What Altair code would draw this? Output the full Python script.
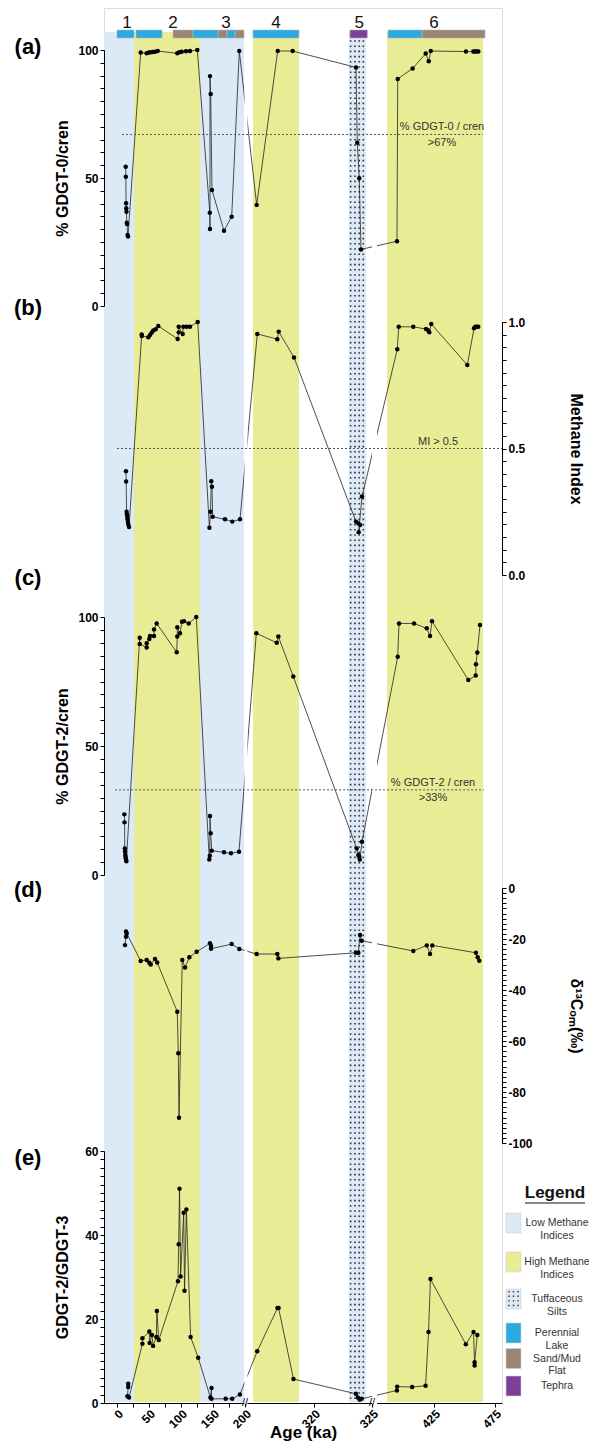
import altair as alt
import pandas as pd

FONT = "Liberation Sans"
W, H = 398, 1395
PAD = {"left": 96, "top": 0, "right": 87, "bottom": 40}

LOW_C, HIGH_C = "#dce9f6", "#e8ec94"
LAKE_C, FLAT_C, TEPHRA_C = "#29abe2", "#998675", "#7d3f98"

# ---------------- broken (piecewise) age axis ----------------
X_DOMAIN = [-20.3, 0, 200, 320, 325, 425, 475, 480.7]
X_RANGE = [0, 13, 141, 210, 268, 330, 391, 398]
X_MAJOR = [0, 50, 100, 150, 200, 320, 325, 425, 475]
X_MINOR = [25, 75, 125, 175]
BREAK_AGES = [200, 325]
GAP_START = [199.2, 325.0]
GAP_END = [204.3, 333.1]

# ---------------- background zones ----------------
ZONE_START = [-20.3, 26.6, 129.7, 213.9, 349.2]
ZONE_END = [26.6, 129.7, 198.4, 293.9, 465.2]
ZONE_KIND = ["Low", "High", "Low", "High", "High"]
TUFF_START = [323.0]
TUFF_END = [324.48]
TUFF_DOT_COLS = [323.16, 323.53, 323.9, 324.25]

# ---------------- lithology strip ----------------
LITH_START = [0, 29.7, 87.5, 118.8, 157.8, 171.9, 184.4, 213.9, 323.1, 350.8, 405.6]
LITH_END = [26.6, 70.3, 118.8, 157.8, 171.9, 184.4, 198.4, 293.9, 324.6, 405.6, 466.8]
LITH_KIND = ["Perennial Lake", "Perennial Lake", "Sand/Mud Flat", "Perennial Lake",
             "Sand/Mud Flat", "Perennial Lake", "Sand/Mud Flat", "Perennial Lake",
             "Tephra", "Perennial Lake", "Sand/Mud Flat"]
UNIT_LABELS = ["1", "2", "3", "4", "5", "6"]
UNIT_AGE = [15.6, 87.5, 170.3, 253.9, 323.9, 425.0]

# ---------------- (a) % GDGT-0 / cren ----------------
A_AGE = [13.6, 13.8, 14.2, 14.5, 14.8, 15.3, 15.8, 16.6, 17.2,
         37.0, 46.4, 50.0, 52.7, 55.8, 59.4, 63.6,
         94.2, 97.3, 101.1, 107.8, 114.1, 125.5,
         145.0, 145.3, 145.3, 146.4, 148.4, 167.2, 179.2, 191.1,
         220.3, 256.9, 282.9,
         323.62, 323.73, 323.90, 324.05,
         365.3, 366.5, 390.6, 411.6, 416.5, 419.7, 451.2, 457.2, 458.6, 459.8, 461.3]
A_VAL = [54.4, 50.5, 40.1, 38.2, 36.8, 32.5, 32.0, 27.7, 27.1,
         99.0, 98.7, 99.0, 99.1, 99.2, 99.3, 99.6,
         98.7, 99.1, 99.3, 99.5, 99.6, 100.0,
         36.4, 30.1, 89.8, 82.8, 45.3, 29.4, 34.9, 99.6,
         39.5, 99.6, 99.6,
         93.2, 63.8, 49.9, 22.1,
         25.3, 88.7, 92.8, 98.6, 95.6, 99.6, 99.4, 99.4, 99.4, 99.4, 99.4]

# ---------------- (b) Methane Index ----------------
B_AGE = [14.0, 14.3, 15.0, 15.5, 16.0, 16.5, 17.0, 17.8, 18.8,
         38.6, 38.8, 48.9, 51.6, 54.2, 56.7, 60.5, 64.5,
         94.8, 96.4, 96.4, 102.7, 103.6, 108.9, 114.1, 126.1,
         144.4, 146.1, 147.3, 148.4, 149.5, 168.8, 180.2, 192.2,
         221.4, 256.2, 258.6, 285.2,
         323.62, 323.82, 323.97, 323.85, 324.14,
         365.8, 368.1, 391.6, 412.1, 415.8, 417.4, 420.6, 452.3, 457.8, 458.9, 460.1, 461.3]
B_VAL = [0.41, 0.37, 0.25, 0.24, 0.23, 0.22, 0.21, 0.20, 0.19,
         0.951, 0.945, 0.94, 0.949, 0.958, 0.966, 0.971, 0.984,
         0.933, 0.959, 0.981, 0.953, 0.981, 0.981, 0.981, 1.0,
         0.187, 0.25, 0.371, 0.349, 0.23, 0.22, 0.211, 0.22,
         0.953, 0.932, 0.962, 0.86,
         0.211, 0.204, 0.198, 0.169, 0.31,
         0.892, 0.981, 0.981, 0.972, 0.966, 0.959, 0.992, 0.83, 0.975, 0.981, 0.981, 0.981]

# ---------------- (c) % GDGT-2 / cren ----------------
C_AGE = [11.5, 11.8, 12.2, 12.6, 13.0, 13.4, 13.8, 14.2, 14.6,
         35.5, 35.5, 46.4, 46.4, 50.5, 51.6, 57.8, 57.8, 62.0,
         93.3, 94.2, 94.2, 98.4, 101.6, 104.7, 112.0, 123.9,
         144.2, 145.0, 145.3, 146.4, 148.0, 167.2, 178.1, 190.6,
         219.7, 255.2, 258.0, 284.0,
         323.68, 323.82, 323.90, 323.95, 324.14,
         366.5, 368.6, 392.8, 413.3, 418.6, 421.8, 453.1, 459.2, 459.4, 460.5, 462.7]
C_VAL = [23.5, 20.4, 10.3, 9.0, 7.8, 7.0, 6.4, 5.9, 5.3,
         92.0, 89.5, 88.2, 89.8, 91.5, 92.6, 92.6, 95.2, 97.5,
         86.3, 92.4, 96.0, 93.7, 98.2, 98.4, 97.5, 100.0,
         6.0, 7.5, 22.9, 16.2, 9.4, 8.8, 8.4, 9.0,
         93.7, 90.0, 92.4, 76.9,
         10.3, 7.8, 7.1, 6.0, 12.9,
         84.6, 97.5, 97.5, 95.6, 92.6, 98.4, 75.6, 77.3, 81.7, 86.2, 96.9]

# ---------------- (d) d13C OM ----------------
D_AGE = [12.5, 14.1, 14.1, 15.2,
         37.0, 46.4, 50.5, 52.7, 59.4, 62.8,
         94.2, 95.8, 96.9, 102.0, 106.3, 113.0, 124.5,
         145.3, 146.9, 146.9, 179.2, 191.1,
         220.3, 256.2, 258.0,
         323.62, 323.82, 323.97, 324.11,
         391.6, 413.3, 418.6, 422.3, 459.4, 460.8, 462.1]
D_VAL = [-22.4, -19.1, -17.1, -17.8,
         -28.6, -28.2, -29.3, -30.0, -27.8, -29.2,
         -48.5, -64.8, -90.1, -28.2, -31.2, -27.2, -25.0,
         -21.7, -22.7, -23.8, -22.0, -23.9,
         -25.9, -25.9, -27.6,
         -25.4, -25.4, -18.4, -20.7,
         -24.7, -22.5, -25.9, -22.5, -25.4, -27.2, -28.5]

# ---------------- (e) GDGT-2 / GDGT-3 ----------------
E_AGE = [17.5, 17.5, 16.3, 18.8,
         39.7, 39.7, 50.5, 51.0, 54.5, 56.4, 61.5, 62.3, 65.3,
         95.3, 96.4, 97.7, 99.4, 104.2, 105.5, 108.4, 115.0, 126.9,
         145.9, 147.7, 147.7, 169.8, 180.0, 192.0,
         221.2, 256.5, 258.4, 284.3,
         323.61, 323.78, 323.94, 324.10,
         365.2, 365.6, 389.8, 411.4, 416.2, 419.3, 451.1, 457.4, 458.3, 458.3, 460.5]
E_VAL = [4.6, 3.8, 1.6, 1.3,
         14.1, 15.4, 17.0, 14.3, 16.2, 13.6, 15.7, 21.9, 15.0,
         29.0, 37.8, 51.0, 30.1, 45.3, 26.7, 46.1, 15.7, 10.8,
         1.3, 3.6, 1.0, 1.0, 1.0, 2.0,
         12.3, 22.6, 22.6, 5.7,
         2.2, 1.3, 0.8, 1.0,
         3.0, 3.9, 3.8, 4.1, 16.9, 29.5, 14.0, 16.9, 8.9, 9.7, 16.2]

# thresholds
THR_VAL = [67, 0.5, 33]
THR_X0 = [8, 0, -3]
THR_X1 = [465, 480.7, 466]

# legend
LEG_LABELS = ["Low Methane\nIndices", "High Methane\nIndices", "Tuffaceous\nSilts",
              "Perennial\nLake", "Sand/Mud\nFlat", "Tephra"]
LEG_KEYS = ["Low", "High", "Tuff", "Perennial Lake", "Sand/Mud Flat", "Tephra"]
LEG_ROW = [0, 1, 2, 3, 4, 5]

# ===================================================================
xscale = alt.Scale(domain=X_DOMAIN, range=X_RANGE, nice=False, zero=False)
label_expr = "indexof(%s, datum.value) >= 0 ? datum.label : ''" % str(X_MAJOR)
xaxis = alt.Axis(values=X_MAJOR + X_MINOR, labelExpr=label_expr, labelAngle=-45,
                 labelFont=FONT, labelFontSize=12, labelFontWeight="bold", labelColor="black",
                 title="Age (ka)", titleFont=FONT, titleFontSize=17, titleFontWeight="bold",
                 titleColor="black", titleY=34, titleBaseline="alphabetic",
                 tickColor="black", domainColor="black",
                 tickSize=4, labelPadding=1, grid=False, labelOverlap=False, labelFlush=False,
                 zindex=0, orient="bottom")


def XN(field="age"):
    return alt.X(f"{field}:Q", scale=xscale, axis=None)


def one():
    return alt.Data(values=[{}])


layers = []

# background zones (carry the single x axis)
zones = pd.DataFrame({"start": ZONE_START, "end": ZONE_END, "kind": ZONE_KIND})
layers.append(alt.Chart(zones).mark_rect().encode(
    x=alt.X("start:Q", scale=xscale, axis=xaxis), x2="end:Q",
    y=alt.value(24), y2=alt.value(H - 1),
    color=alt.Color("kind:N", scale=alt.Scale(domain=["Low", "High"], range=[LOW_C, HIGH_C]),
                    legend=None)))

tuff = pd.DataFrame({"start": TUFF_START, "end": TUFF_END})
layers.append(alt.Chart(tuff).mark_rect(color=LOW_C).encode(
    x=XN("start"), x2="end:Q", y=alt.value(24), y2=alt.value(H - 1)))
dots = pd.DataFrame({"age": TUFF_DOT_COLS})
layers.append(alt.Chart(dots).mark_rule(color="#333", strokeWidth=1.6, strokeDash=[1.6, 3.6]).encode(
    x=XN(), y=alt.value(27), y2=alt.value(H - 2)))

# lithology strip
lith = pd.DataFrame({"start": LITH_START, "end": LITH_END, "kind": LITH_KIND})
layers.append(alt.Chart(lith).mark_rect(stroke="#b5b5b5", strokeWidth=0.6).encode(
    x=XN("start"), x2="end:Q", y=alt.value(22), y2=alt.value(30),
    color=alt.Color("kind:N", scale=alt.Scale(domain=["Perennial Lake", "Sand/Mud Flat", "Tephra"],
                                              range=[LAKE_C, FLAT_C, TEPHRA_C]), legend=None)))
units = pd.DataFrame({"age": UNIT_AGE, "lab": UNIT_LABELS})
layers.append(alt.Chart(units).mark_text(font=FONT, fontSize=17, color="#111", baseline="alphabetic").encode(
    x=XN(), y=alt.value(20), text="lab:N"))

# panels
PANELS = [
    dict(age=A_AGE, val=A_VAL, dom=[0, 100], rng=[298, 42], orient="left",
         title="% GDGT-0/cren", values=list(range(0, 101, 5)),
         expr="datum.value % 50 == 0 ? '' + datum.value : ''", tx=-42),
    dict(age=B_AGE, val=B_VAL, dom=[0, 1], rng=[567, 314], orient="right",
         title="Methane Index", values=[k / 20 for k in range(0, 21)],
         expr="abs(datum.value * 2 - round(datum.value * 2)) < 1e-6 ? format(datum.value, '.1f') : ''",
         tx=73),
    dict(age=C_AGE, val=C_VAL, dom=[0, 100], rng=[867, 609], orient="left",
         title="% GDGT-2/cren", values=list(range(0, 101, 5)),
         expr="datum.value % 50 == 0 ? '' + datum.value : ''", tx=-42),
    dict(age=D_AGE, val=D_VAL, dom=[-100, 0], rng=[1135, 880], orient="right",
         title="δ¹³Cₒₘ(‰)", values=list(range(-100, 1, 2)),
         expr="datum.value % 20 == 0 ? '' + datum.value : ''", tx=73),
    dict(age=E_AGE, val=E_VAL, dom=[0, 60], rng=[1395, 1143], orient="left",
         title="GDGT-2/GDGT-3", values=list(range(0, 61, 2)),
         expr="datum.value % 20 == 0 ? '' + datum.value : ''", tx=-42),
]

line_layers, point_layers, thr_layers = [], [], []
for k, p in enumerate(PANELS):
    df = pd.DataFrame({"age": p["age"], "val": p["val"], "i": list(range(len(p["age"])))})
    ysc = alt.Scale(domain=p["dom"], range=p["rng"], nice=False, zero=False)
    left = p["orient"] == "left"
    yax = alt.Axis(orient=p["orient"], values=p["values"], labelExpr=p["expr"], title=p["title"],
                   titleX=p["tx"], titleAngle=-90 if left else 90, titleBaseline="middle",
                   titleFont=FONT, titleFontSize=16, titleFontWeight="bold", titleColor="black",
                   labelFont=FONT, labelFontSize=12, labelFontWeight="bold", labelColor="black",
                   tickColor="black", domainColor="black", tickSize=4, labelPadding=2,
                   grid=False, zindex=1, labelOverlap=False, labelFlush=False)
    line_layers.append(alt.Chart(df).mark_line(color="#222", strokeWidth=0.8).encode(
        x=XN(), y=alt.Y("val:Q", scale=ysc, axis=yax), order="i:Q"))
    point_layers.append(alt.Chart(df).mark_circle(color="black", size=20, opacity=1).encode(
        x=XN(), y=alt.Y("val:Q", scale=ysc, axis=None)))
    if k < 3:
        tdf = pd.DataFrame({"x0": [THR_X0[k]], "x1": [THR_X1[k]], "v": [THR_VAL[k]]})
        thr_layers.append(alt.Chart(tdf).mark_rule(color="#555", strokeWidth=1, strokeDash=[2, 2]).encode(
            x=XN("x0"), x2="x1:Q", y=alt.Y("v:Q", scale=ysc, axis=None)))

layers += line_layers

# white gaps where the axis is broken
gaps = pd.DataFrame({"start": GAP_START, "end": GAP_END})
layers.append(alt.Chart(gaps).mark_rect(color="white").encode(
    x=XN("start"), x2="end:Q", y=alt.value(31), y2=alt.value(H + 1)))
brk = pd.DataFrame({"age": BREAK_AGES})
layers.append(alt.Chart(brk).mark_text(text="//", font=FONT, fontSize=11, color="black",
                                       baseline="middle").encode(x=XN(), y=alt.value(H)))

layers += thr_layers
layers += point_layers


def txt(s, x, y, size=11, weight="normal", color="#333", align="center"):
    return alt.Chart(one()).mark_text(text=s, font=FONT, fontSize=size, fontWeight=weight,
                                      color=color, align=align, baseline="middle").encode(
        x=alt.value(x), y=alt.value(y))


layers += [
    txt("% GDGT-0 / cren", 338, 119), txt(">67%", 338, 135),
    txt("MI > 0.5", 334, 434),
    txt("% GDGT-2 / cren", 329, 775), txt(">33%", 329, 790),
    txt("(a)", -76, 39, 22, "bold", "black"),
    txt("(b)", -76, 300, 22, "bold", "black"),
    txt("(c)", -76, 570, 22, "bold", "black"),
    txt("(d)", -76, 882, 22, "bold", "black"),
    txt("(e)", -76, 1150, 22, "bold", "black"),
]

# custom legend
leg = pd.DataFrame({"row": LEG_ROW, "key": LEG_KEYS, "lab": LEG_LABELS})
legy = alt.Scale(domain=LEG_ROW, range=[1215, 1254, 1291, 1325, 1350.5, 1378], nice=False, zero=False)
layers.append(alt.Chart(leg).mark_rect(yOffset=-10, y2Offset=10, stroke="#d0d0d0", strokeWidth=0.6).encode(
    x=alt.value(402), x2=alt.value(417),
    y=alt.Y("row:Q", scale=legy, axis=None), y2="row:Q",
    color=alt.Color("key:N", scale=alt.Scale(domain=LEG_KEYS,
                                             range=[LOW_C, HIGH_C, LOW_C, LAKE_C, FLAT_C, TEPHRA_C]),
                    legend=None)))
for xx in [405, 409.5, 414]:
    layers.append(alt.Chart(pd.DataFrame({"row": [2]})).mark_rule(
        color="#333", strokeWidth=1.4, strokeDash=[1.4, 3.2], yOffset=-8, y2Offset=9).encode(
        x=alt.value(xx), y=alt.Y("row:Q", scale=legy, axis=None), y2="row:Q"))
layers.append(alt.Chart(leg).mark_text(font=FONT, fontSize=10.5, color="#333", lineBreak="\n",
                                       lineHeight=12.5, align="center", baseline="middle").encode(
    x=alt.value(453), y=alt.Y("row:Q", scale=legy, axis=None), text="lab:N"))
layers.append(txt("Legend", 451, 1185, 17, "bold", "#111"))
layers.append(alt.Chart(one()).mark_rule(color="#111", strokeWidth=1.2).encode(
    x=alt.value(421), x2=alt.value(481), y=alt.value(1195)))

chart = alt.layer(*layers).resolve_scale(y="independent", color="independent").resolve_axis(
    x="independent").properties(
    width=W, height=H, padding=PAD, autosize=alt.AutoSizeParams(type="none")
).configure_view(stroke=None).configure(font=FONT)

chart.save("out.html", embed_options={"renderer": "svg", "actions": False})
